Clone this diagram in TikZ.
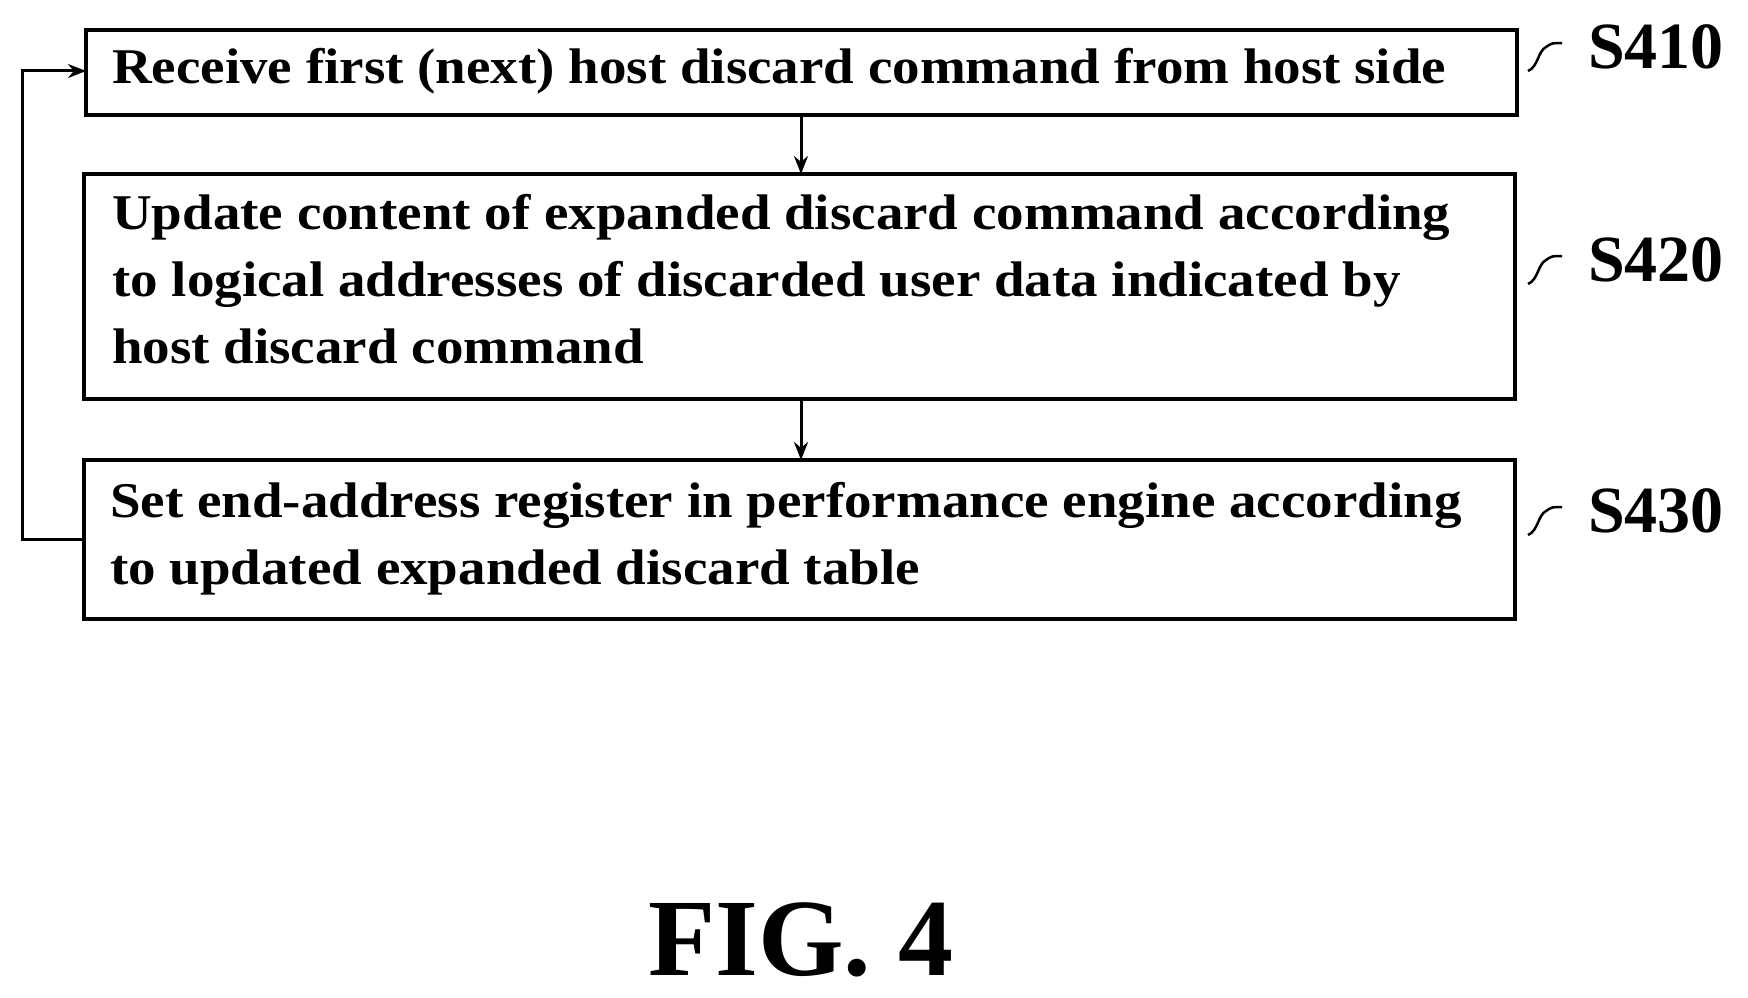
\documentclass[tikz,border=0pt]{standalone}
\usepackage{fontspec}
\setmainfont{Liberation Serif}
\newfontfamily\widefont[FakeStretch=1.1]{Liberation Serif}
\usetikzlibrary{arrows.meta}
\begin{document}
\begin{tikzpicture}[x=1pt,y=-1pt,
  box/.style={draw,line width=3.5pt},
  txt/.style={anchor=north west,align=left,font=\widefont\fontsize{50}{67}\selectfont\bfseries,inner sep=0pt},
  lab/.style={anchor=west,font=\fontsize{66}{70}\selectfont\bfseries,inner sep=0pt},
  arr/.style={line width=3pt,-{Stealth[length=18pt,width=14pt]}},
  sq/.style={line width=2.5pt}]
\useasboundingbox (0,0) rectangle (1748,998);
\draw[box] (86,30) rectangle (1517,115);
\draw[box] (84,174) rectangle (1515,399);
\draw[box] (84,460) rectangle (1515,619);
\coordinate (b1t) at (801,115); \coordinate (b2t) at (801,174);
\coordinate (b2b) at (801,399); \coordinate (b3t) at (801,460);
\node[txt] (t1) at (112,48) {Receive first (next) host discard command from host side};
\node[txt] (t2) at (112,194) {Update content of expanded discard command according\\to logical addresses of discarded user data indicated by\\host discard command};
\node[txt] (t3) at (110,482) {Set end-address register in performance engine according\\to updated expanded discard table};
\draw[arr] (b1t) -- (b2t);
\draw[arr] (b2b) -- (b3t);
\coordinate (l1) at (84,539); \coordinate (l2) at (22,539); \coordinate (l3) at (22,71); \coordinate (l4) at (86,71);
\draw[arr] (l1) -- (l2) -- (l3) -- (l4);
\foreach \y/\s in {47/S410,260/S420,511/S430}{
  \draw[sq] (1528,\y+24) .. controls (1538,\y+20) and (1538,\y+4) .. (1546,\y) .. controls (1552,\y-4) .. (1562,\y-4);
  \node[lab] at (1588,\y) {\s};
}
\node[font=\fontsize{110}{112}\selectfont\bfseries,inner sep=0pt] (fig) at (801,940) {FIG. 4};
\end{tikzpicture}
\end{document}
